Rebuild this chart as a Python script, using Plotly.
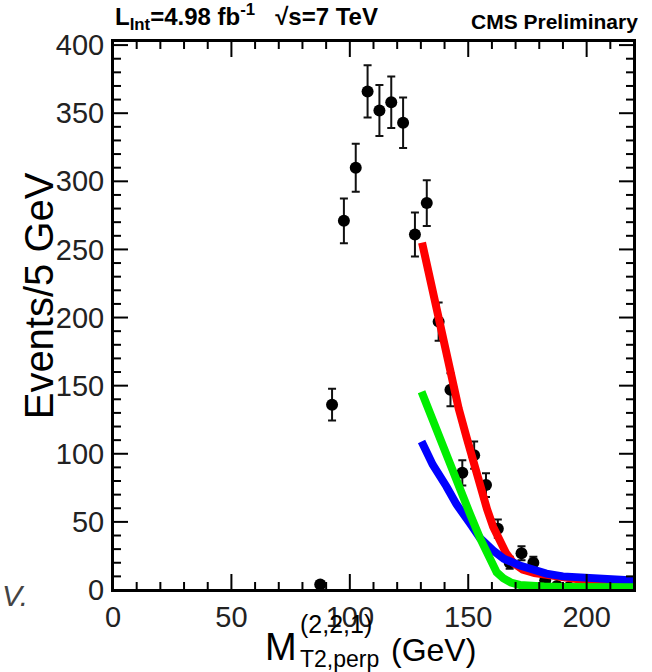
import numpy as np
import plotly.graph_objects as go

# ---- data ----
bin_x = [87.5, 92.5, 97.5, 102.5, 107.5, 112.5, 117.5, 122.5, 127.5, 132.5,
         137.5, 142.5, 147.5, 152.5, 157.5, 162.5, 167.5, 172.5, 177.5, 182.5,
         187.5, 192.5]
bin_y = [4, 136, 271, 310, 366, 352, 358, 343, 261, 284,
         197, 147, 86, 99, 77, 45, 20, 27, 20, 7,
         3, 2]
bin_err = [float(np.sqrt(v)) for v in bin_y]

red_x = [130.5, 134, 137.3, 140, 143, 146, 149.3, 152, 155, 158, 160.5, 163, 166, 169, 173, 178, 183, 190, 200, 210, 220]
red_y = [255, 226, 198, 176, 154, 133, 112, 94, 76, 59, 46.5, 36, 27, 20, 15, 12.5, 11, 9, 7, 6, 5]

blue_x = [130.3, 135, 140.8, 145, 150.7, 155, 160.5, 165, 171.8, 177, 183, 190, 200, 210, 220]
blue_y = [109, 92, 76, 63, 49, 38, 29, 23, 18, 14.5, 12, 10, 8.6, 7.5, 7]

green_x = [130.3, 135, 140.8, 145, 150.7, 155, 159, 162, 164.8, 168, 171.8, 176, 182, 190, 200, 210, 220]
green_y = [145.5, 124, 100, 81, 56, 38, 22, 13, 8.6, 5.5, 3.7, 3, 2.5, 2.2, 2, 2, 2]

X_RANGE = [0, 220]
Y_RANGE = [0, 403]
X_MAJOR, X_MINOR = 50, 10
Y_MAJOR, Y_MINOR = 50, 10

W, H = 652, 672
M_L, M_R, M_T, M_B = 113, 18, 41, 82
PW, PH = W - M_L - M_R, H - M_T - M_B

FONT = "Liberation Sans, Arial, sans-serif"

fig = go.Figure()

fig.add_trace(go.Scatter(
    x=bin_x, y=bin_y, mode="markers",
    marker=dict(color="black", size=12),
    error_y=dict(type="data", array=bin_err, color="#111", thickness=2, width=4),
    hoverinfo="skip"))
fig.add_trace(go.Scatter(x=red_x, y=red_y, mode="lines",
                         line=dict(color="#ff0000", width=8), hoverinfo="skip"))
fig.add_trace(go.Scatter(x=blue_x, y=blue_y, mode="lines",
                         line=dict(color="#0000ff", width=8), hoverinfo="skip"))
fig.add_trace(go.Scatter(x=green_x, y=green_y, mode="lines",
                         line=dict(color="#00ee00", width=8), hoverinfo="skip"))

# ---- frame and tick marks, built from the axis ranges (ROOT style, ticks inside on all sides)
x0, x1 = X_RANGE
y0, y1 = Y_RANGE
px_x = (x1 - x0) / PW   # data units per pixel, horizontally
px_y = (y1 - y0) / PH   # data units per pixel, vertically
fx = [x0, x1, x1, x0, x0, None]
fy = [y0, y0, y1, y1, y0, None]
for v in np.arange(x0 + X_MINOR, x1 - 1e-9, X_MINOR):
    ln = (16 if v % X_MAJOR == 0 else 8) * px_y
    fx += [v, v, None, v, v, None]
    fy += [y0, y0 + ln, None, y1, y1 - ln, None]
for v in np.arange(y0 + Y_MINOR, y1 - 1e-9, Y_MINOR):
    ln = (15 if v % Y_MAJOR == 0 else 8) * px_x
    fx += [x0, x0 + ln, None, x1, x1 - ln, None]
    fy += [v, v, None, v, v, None]
fig.add_trace(go.Scatter(x=fx, y=fy, mode="lines", line=dict(color="black", width=2),
                         cliponaxis=False, hoverinfo="skip", connectgaps=False))

major = dict(
    showgrid=False, zeroline=False, showline=True, linecolor="black", linewidth=2,
    mirror=True, ticks="", tickmode="linear", tick0=0,
    tickfont=dict(family=FONT, size=29, color="#222"),
)

fig.update_layout(
    width=W, height=H,
    margin=dict(l=M_L, r=M_R, t=M_T, b=M_B),
    paper_bgcolor="white", plot_bgcolor="white",
    showlegend=False,
    font=dict(family=FONT),
    xaxis=dict(range=X_RANGE, dtick=X_MAJOR, ticklabelstandoff=0, **major),
    yaxis=dict(range=Y_RANGE, dtick=Y_MAJOR, ticklabelstandoff=1, **major),
)

ann = []
ann.append(dict(xref="paper", yref="paper", x=0.0, y=1.0, yshift=5, xanchor="left", yanchor="bottom",
                text="<b>L<sub>Int</sub>=4.98 fb<sup>-1</sup>   √s=7 TeV</b>", showarrow=False,
                font=dict(family=FONT, size=24, color="black")))
ann.append(dict(xref="paper", yref="paper", x=1.0, y=1.0, xshift=6, yshift=6, xanchor="right", yanchor="bottom",
                text="<b>CMS Preliminary</b>", showarrow=False,
                font=dict(family=FONT, size=21, color="black")))
# y-axis title
ann.append(dict(xref="paper", yref="paper", x=-0.142, y=0.535, xanchor="center", yanchor="middle",
                text="Events/5 GeV", textangle=-90, showarrow=False,
                font=dict(family=FONT, size=40, color="black")))
# x-axis title built from pieces so the super/subscripts stack
ann.append(dict(xref="paper", yref="paper", x=0.288, y=0, yshift=-80, xanchor="left", yanchor="bottom",
                text="M", showarrow=False, font=dict(family=FONT, size=38, color="black")))
ann.append(dict(xref="paper", yref="paper", x=0.356, y=0, yshift=-50, xanchor="left", yanchor="bottom",
                text="(2,2,1)", showarrow=False, font=dict(family=FONT, size=25, color="black")))
ann.append(dict(xref="paper", yref="paper", x=0.356, y=0, yshift=-84, xanchor="left", yanchor="bottom",
                text="T2,perp", showarrow=False, font=dict(family=FONT, size=23, color="black")))
ann.append(dict(xref="paper", yref="paper", x=0.530, y=0, yshift=-80, xanchor="left", yanchor="bottom",
                text="(GeV)", showarrow=False, font=dict(family=FONT, size=32, color="black")))
ann.append(dict(xref="paper", yref="paper", x=-0.217, y=0, yshift=-24, xanchor="left", yanchor="bottom",
                text="<i>V.</i>", showarrow=False, font=dict(family=FONT, size=30, color="#444")))
fig.update_layout(annotations=ann)

fig.write_html("out.html")
